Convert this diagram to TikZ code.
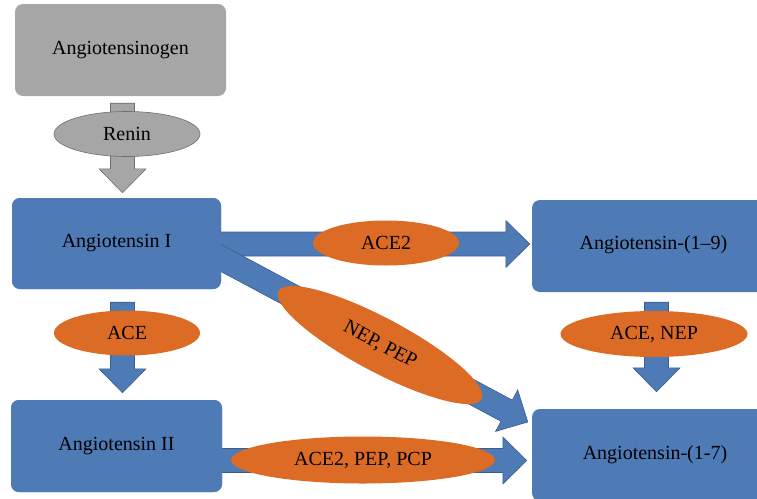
\documentclass[tikz,border=0pt]{standalone}
\usepackage{fontspec}
\setmainfont{Liberation Serif}
\usetikzlibrary{calc,shapes.geometric}

\definecolor{boxblue}{RGB}{78,122,181}
\definecolor{edgeblue}{RGB}{58,95,142}
\definecolor{enzorange}{RGB}{220,107,38}
\definecolor{boxgray}{RGB}{166,166,166}
\definecolor{edgegray}{RGB}{110,110,110}

% block arrow from #2 to #3 (shaft 24, head 47 wide, 24 long)
\newcommand{\blockarrow}[3][]{%
  \coordinate (ba-s) at (#2);
  \coordinate (ba-e) at (#3);
  \coordinate (ba-h) at ($(ba-e)!24pt!(ba-s)$);
  \draw[fatarrow,#1] ($(ba-s)!12pt!90:(ba-e)$) -- ($(ba-h)!12pt!-90:(ba-s)$)
    -- ($(ba-h)!23.5pt!-90:(ba-s)$) -- (ba-e) -- ($(ba-h)!23.5pt!90:(ba-s)$)
    -- ($(ba-h)!12pt!90:(ba-s)$) -- ($(ba-s)!12pt!-90:(ba-e)$) -- cycle;
}

\begin{document}
\begin{tikzpicture}[x=1pt,y=-1pt,font=\fontsize{20}{24}\selectfont,
  molbox/.style={rectangle,rounded corners=8pt,fill=boxblue,inner sep=0pt},
  enzyme/.style={ellipse,fill=enzorange,inner sep=0pt},
  fatarrow/.style={fill=boxblue,draw=edgeblue,line width=0.6pt,line join=miter}]
\useasboundingbox (0,0) rectangle (757,498);
\clip (0,0) rectangle (757,498);

\node[molbox,fill=boxgray,minimum width=211pt,minimum height=92pt] (ango) at (120.5,50) {Angiotensinogen};
\node[molbox,minimum width=209pt,minimum height=91pt] (angI) at (116.5,243.5) {};
\node[molbox,minimum width=211pt,minimum height=92pt] (angII) at (116.5,446) {};
\node[molbox,minimum width=246pt,minimum height=92pt] (ang19) at (655,246) {};
\node[molbox,minimum width=246pt,minimum height=92pt] (ang17) at (655,455) {};

\coordinate (r1) at ([xshift=2pt,yshift=-7pt]ango.south);
\coordinate (r2) at ([xshift=6pt,yshift=5pt]angI.north);
\coordinate (a1) at ([xshift=6pt,yshift=-13pt]angI.south);
\coordinate (a2) at ([xshift=6pt,yshift=7pt]angII.north);
\coordinate (h1) at ([xshift=-11pt,yshift=-0.5pt]angI.east);
\coordinate (h2) at ([xshift=-2pt,yshift=2pt]ang19.west);
\coordinate (d1) at ([xshift=-31pt,yshift=2pt]angI.east);
\coordinate (d2) at ([xshift=-4pt,yshift=33pt]ang17.west);
\coordinate (b1) at ([xshift=-11pt,yshift=-14.5pt]angII.east);
\coordinate (b2) at ([xshift=-5pt,yshift=-5.5pt]ang17.west);
\coordinate (n1) at ([xshift=1.5pt,yshift=-10pt]ang19.south);
\coordinate (n2) at ([xshift=1.5pt,yshift=17pt]ang17.north);

\blockarrow[fill=boxgray,draw=edgegray]{r1}{r2}
\blockarrow{a1}{a2}
\blockarrow{h1}{h2}
\blockarrow{d1}{d2}
\blockarrow{b1}{b2}
\blockarrow{n1}{n2}

\node[molbox,minimum width=209pt,minimum height=91pt] at (angI) {Angiotensin I};
\node[molbox,minimum width=211pt,minimum height=92pt] at (angII) {Angiotensin II};
\node at ([xshift=-1.5pt,yshift=1pt]ang19.center) {Angiotensin-(1–9)};
\node at (ang17) {Angiotensin-(1-7)};

\node[enzyme,fill=boxgray,draw=edgegray,line width=0.6pt,minimum width=146pt,minimum height=45pt] (renin) at (127,134) {Renin};
\node[enzyme,minimum width=146pt,minimum height=45pt] (ace) at (127,333) {ACE};
\node[enzyme,minimum width=146pt,minimum height=45pt] (ace2) at (386,243) {ACE2};
\node[enzyme,minimum width=187pt,minimum height=46pt] (acenep) at (654,334) {ACE, NEP};
\node[enzyme,minimum width=230pt,minimum height=54pt,rotate=-28] (neppep) at (380,345) {NEP, PEP};
\node[enzyme,minimum width=264pt,minimum height=47pt] (acepcp) at (363,460) {ACE2, PEP, PCP};
\end{tikzpicture}
\end{document}
